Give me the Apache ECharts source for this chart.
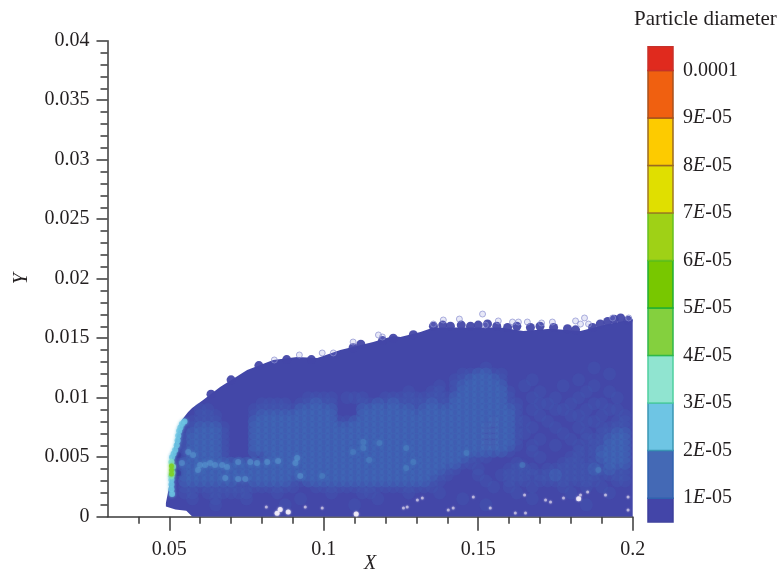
<!DOCTYPE html>
<html>
<head>
<meta charset="utf-8">
<style>html,body{margin:0;padding:0;background:#fff}#c{width:779px;height:573px}</style>
<script src="https://cdn.jsdelivr.net/npm/echarts@6/dist/echarts.min.js"></script>
</head>
<body>
<div id="c"></div>
<script>
// Cloud outline
const outlineX = [.0489,.0489,.0497,.05025,.0507,.05187,.05404,.05609,.05738,.06095,.06645,.0752,.08363,.0914,.0979,.10535,.116,.1225,.1248,.1313,.1355,.1465,.1572,.1646,.1734,.1831,.1919,.2,.2,.0575,.0555,.052];
const outlineY = [.00085,.00115,.0022,.00308,.0047,.00619,.00813,.0088,.00913,.0098,.0109,.01233,.01317,.01342,.01334,.01401,.01468,.01519,.0151,.01552,.0159,.0159,.0159,.0156,.0158,.0156,.0162,.0166,0,0,.0005,.0006];

// Particle diameter class over the cloud: rows from y=0.0125 down by 0.0005, columns from x=0.05 by 0.0025
const rowTopY = 0.0125, rowStep = 0.0005, colStartX = 0.05, colStep = 0.0025;
const classRows = [
"0000000000 0000000000 0000000000 0000000000 0100000000 0000010000 0",
"0000000000 0000000000 0000000000 0000000011 2211000000 0000000100 0",
"0000000000 0000000000 0000000000 0000000112 2221000100 0001000000 0",
"0000000000 0000000000 0000000000 0000010122 2222001000 0100010000 0",
"0000000000 0000000000 0000000000 0100110122 2222100010 0000100100 0",
"0000000000 0000000011 1101110011 1111111222 2222100100 1001000010 0",
"0000000000 0011110112 1100011212 1111211222 2222110011 0010011000 0",
"0000110000 0111111222 2200022222 2212222222 2222210100 1100100110 0",
"0000111000 0122222222 2200022222 2222222222 2222210010 0011001001 0",
"0001111000 0222222222 2211222222 2222222222 2232211001 0000110011 0",
"0001222100 0222222222 2222222222 2222222222 2332210100 1001001111 0",
"0012222100 0222222222 2222222222 2222222222 2332211000 0100101122 0",
"0012222100 0222222222 2222222222 2222222222 2332210010 0010111222 0",
"0012222100 0222222222 2222222222 2222222222 2332210100 1001011222 0",
"0012222100 0222222222 2222222222 2222222222 2222100100 0001112222 0",
"0012222100 0002222222 2222222222 2222222221 1100000010 0011012222 0",
"0022222222 2222222222 2222222222 2222222211 0000010000 0111111222 0",
"0022222222 2222222222 2222222222 2222221100 1000111101 1111121211 0",
"0022222222 2222222222 2222222222 2222211000 1001111111 2111111111 0",
"0022222221 1222221122 2222222222 2222110000 0100111011 1111110011 0",
"0011111111 1111111001 1111111111 1111100000 0010100100 0100101000 0",
"0011011111 1000100000 0100011000 0100010000 0000010000 0010000100 0",
"0001001000 1000000100 0000000100 0000000010 0000000100 0000000000 0",
"0000001000 0000010000 0000100000 0000000000 0100000000 0000100000 0"
];

// Individual particles
const edgeBlobs = [[.1355,.0160],[.1385,.0161],[.141,.0160],[.1445,.0161],[.1475,.0160],[.150,.0161],[.153,.0162],[.156,.0160],[.1595,.0159],[.1625,.0160],[.1669,.0159],[.170,.0160],[.1744,.0159],[.1789,.0158],[.1815,.0157],[.187,.0159],[.1895,.0162],[.1919,.0164],[.194,.0166],[.1961,.0167],[.1985,.0165],[.1225,.0150],[.1290,.0153],[.1095,.0142],[.112,.0145],[.1190,.0148],[.0960,.0132],[.088,.0132],[.079,.0127],[.070,.0115],[.0635,.0103]];
const hollowPts = [[.1387,.01653],[.1514,.01703],[.1439,.01661],[.1355,.01619],[.1815,.01645],[.1844,.0167],[.1831,.01619],[.1857,.01619],[.1659,.01636],[.163,.01636],[.1705,.01628],[.174,.01636],[.1935,.0167],[.1987,.0167],[.1565,.01645],[.1611,.01636],[.1523,.01611],[.084,.01317],[.0921,.01359],[.0995,.01376],[.1031,.01376],[.1095,.01468],[.1177,.01527],[.119,.0151]];
const skyPts = [[.0509,.0019],[.0507,.0023],[.0507,.0027],[.0507,.0031],[.0509,.0050],[.0514,.0053],[.0519,.0056],[.0524,.0060],[.0527,.0064],[.0529,.0068],[.0532,.0072],[.0536,.0075],[.0541,.0078],[.0549,.0080]];
const tealPts = [[.0507,.0034],[.0507,.0046],[.0512,.0042],[.0510,.0037]];
const greenPts = [[.0507,.00426],[.0507,.00393],[.0507,.00359]];
const bandPts = [[.0541,.00451],[.0561,.00544],[.0577,.00518],[.05997,.00434],[.0616,.00434],[.0632,.00451],[.0648,.00434],[.0671,.00434],[.0687,.00418],[.0723,.0046],[.0762,.0046],[.0784,.00451],[.0817,.0046],[.0852,.00468],[.0914,.00493],[.0908,.00451],[.0924,.00342],[.0746,.00317],[.0723,.00317],[.0681,.00325],[.0593,.00392]];
const dimPts = [[.1128,.00628],[.118,.00619],[.1095,.00544],[.1128,.00577],[.1267,.00577],[.1147,.00476],[.0995,.00342],[.1267,.00409],[.1462,.00535],[.129,.0046],[.1643,.00434],[.1889,.00392]];
const darkPts = [[.05284,.00518],[.05284,.00367]];
const specks = [[.0814,.00082],[.094,.00082],[.1319,.00157],[.1303,.0014],[.127,.00082],[.1258,.00073],[.1419,.00073],[.1403,.00056],[.1484,.00166],[.0995,.00073],[.165,.00182],[.1776,.00157],[.1831,.00182],[.1854,.00208],[.1912,.00182],[.1718,.0014],[.162,.00031],[.1653,.00031],[.1539,.00073],[.1734,.00124],[.1985,.00166],[.1985,.00056]];
const bigSpecks = [[.0859,.0006],[.0885,.0004],[.0849,.0003],[.1105,.00023],[.1825,.0015]];

// Axes
const xMajor = [.05,.1,.15,.2];
const xMinor = [.04,.06,.07,.08,.09,.11,.12,.13,.14,.16,.17,.18,.19];

// Colour scale
const bandLow  = [.5e-5,1e-5,2e-5,3e-5,4e-5,5e-5,6e-5,7e-5,8e-5,9e-5,1e-4];
const bandHigh = [1e-5,2e-5,3e-5,4e-5,5e-5,6e-5,7e-5,8e-5,9e-5,1e-4,1.05e-4];
const bandFill = ['#4345a8','#4469b5','#6ec5e4','#90e4d0','#84d03e','#78c700','#9fd116','#e0df00','#fdcb00','#f06010','#e02a1e'];
const bandEdge = ['#3d3f9c','#2f62ae','#3a96b4','#4fcfa0','#2fb84a','#1fb030','#66c020','#a07a20','#9a6a20','#a8501c','#c8302a'];
const scaleTicks = [1e-5,2e-5,3e-5,4e-5,5e-5,6e-5,7e-5,8e-5,9e-5,1e-4];
const scaleLabels = ['1E-05','2E-05','3E-05','4E-05','5E-05','6E-05','7E-05','8E-05','9E-05','0.0001'];

const FONT = '"Liberation Serif","DejaVu Serif",serif';
const INK = '#231f20';
const classPts = {1:[],2:[],3:[]};
classRows.forEach((r, ri) => {
  r.replace(/ /g,'').split('').forEach((ch, ci) => {
    if (ch !== '0') classPts[ch].push([colStartX + ci*colStep, rowTopY - ri*rowStep]);
  });
});
const dots = (data, size, color, opacity, z, blur) => ({
  type:'scatter', data, symbol:'circle', symbolSize:size, silent:true, z, clip:true,
  xAxisIndex:0, yAxisIndex:0, animation:false,
  itemStyle:{color, opacity, shadowColor:color, shadowBlur:blur||0}
});
const ax = {lineStyle:{color:'#3a3a3a',width:1.5}};

const chart = echarts.init(document.getElementById('c'), null, {renderer:'canvas'});
chart.setOption({
  animation:false,
  backgroundColor:'#fff',
  title:{text:'Particle diameter', left:634, top:9, padding:0, textStyle:{fontFamily:FONT,fontSize:21,fontWeight:'normal',color:INK}},
  grid:[
    {left:107.5, right:146.3, top:40.7, bottom:56.3, outerBoundsMode:'none'},
    {left:648, width:25, top:46.7, height:475.2, outerBoundsMode:'none'}
  ],
  xAxis:[
    {type:'value', gridIndex:0, min:.03, max:.2, position:'bottom', splitLine:{show:false},
     axisLine:{onZero:false,...ax}, name:'X', nameLocation:'middle', nameGap:37, nameMoveOverlap:false,
     nameTextStyle:{fontFamily:FONT,fontSize:20,fontStyle:'italic',color:INK},
     axisTick:{customValues:xMajor,length:14,lineStyle:{color:'#3a3a3a',width:1.5}},
     axisLabel:{customValues:xMajor,margin:23,fontFamily:FONT,fontSize:20,color:INK,formatter:v=>String(+v.toFixed(3))}},
    {type:'value', gridIndex:0, min:.03, max:.2, position:'bottom', splitLine:{show:false},
     axisLine:{show:false,onZero:false}, axisLabel:{show:false},
     axisTick:{customValues:xMinor,length:7,lineStyle:{color:'#3a3a3a',width:1.5}}},
    {type:'value', gridIndex:1, min:0, max:1, show:false}
  ],
  yAxis:[
    {type:'value', gridIndex:0, min:0, max:.04, interval:.005, splitLine:{show:false},
     axisLine:{show:true,onZero:false,...ax}, name:'Y', nameLocation:'middle', nameGap:76, nameRotate:90, nameMoveOverlap:false,
     nameTextStyle:{fontFamily:FONT,fontSize:20,fontStyle:'italic',color:INK},
     axisTick:{show:true,length:11,lineStyle:{color:'#3a3a3a',width:1.5}},
     minorTick:{show:true,splitNumber:5,length:7,lineStyle:{color:'#3a3a3a',width:1.5}},
     minorSplitLine:{show:false},
     axisLabel:{margin:18,fontFamily:FONT,fontSize:20,color:INK,formatter:v=>String(+v.toFixed(3))}},
    {type:'value', gridIndex:1, min:.5e-5, max:1.05e-4, position:'right', splitLine:{show:false},
     axisLine:{show:false}, axisTick:{show:false},
     axisLabel:{customValues:scaleTicks,margin:10,fontFamily:FONT,fontSize:20,color:INK,
       formatter:v=>{
         const s = scaleLabels[Math.round(v*1e5)-1];
         const m = s.match(/^(\d)E(-\d+)$/);
         return m ? `{n|${m[1]}}{e|E}{n|${m[2]}}` : `{n|${s}}`;
       },
       rich:{n:{fontFamily:FONT,fontSize:20,color:INK},e:{fontFamily:FONT,fontSize:20,fontStyle:'italic',color:INK}}}}
  ],
  series:[
    {type:'custom', xAxisIndex:0, yAxisIndex:0, silent:true, z:2, clip:true,
     data:outlineX.map((x,i)=>[x,outlineY[i]]), encode:{x:0,y:1},
     renderItem:(p,api)=> p.dataIndex!==0 ? null : ({
       type:'polygon',
       shape:{points:outlineX.map((x,i)=>api.coord([x,outlineY[i]]))},
       style:{fill:'#4347a8'}
     })},
    dots(edgeBlobs,9,'#4347a8',.95,3,0),
    dots(classPts[1],13,'#4259b1',.32,4,0),
    dots(classPts[2],13,'#3f6cb8',.38,5,0),
    dots(classPts[3],11,'#4476bc',.3,6,0),
    dots(darkPts,6,'#3a3f9e',.7,7,3),
    dots(dimPts,6,'#4e8cc6',.4,7,4),
    dots(bandPts,6,'#5a9ed2',.45,8,4),
    dots(skyPts,6,'#6bc4e2',.8,9,3),
    dots(tealPts,6,'#7edccb',.85,10,3),
    dots(greenPts,5,'#7fd02a',.95,11,3),
    dots(specks,3,'#efe6f4',.55,12,2),
    dots(bigSpecks,5,'#f6f0fa',.85,12,2),
    {type:'scatter', data:hollowPts, symbol:'circle', symbolSize:6, silent:true, z:12, xAxisIndex:0, yAxisIndex:0,
     itemStyle:{color:'rgba(120,125,210,0.25)',borderColor:'#8a8ed0',borderWidth:1,opacity:.7}},
    {type:'custom', xAxisIndex:2, yAxisIndex:1, silent:true, z:3,
     data:bandLow.map((l,i)=>[l,bandHigh[i]]), encode:{y:[0,1]},
     renderItem:(p,api)=>{
       const i = p.dataIndex;
       const a = api.coord([0,bandLow[i]]), b = api.coord([1,bandHigh[i]]);
       return {type:'rect', shape:{x:a[0],y:b[1],width:b[0]-a[0],height:a[1]-b[1]},
         style:{fill:bandFill[i],stroke:bandEdge[i],lineWidth:1.5}};
     }}
  ]
});
</script>
</body>
</html>
